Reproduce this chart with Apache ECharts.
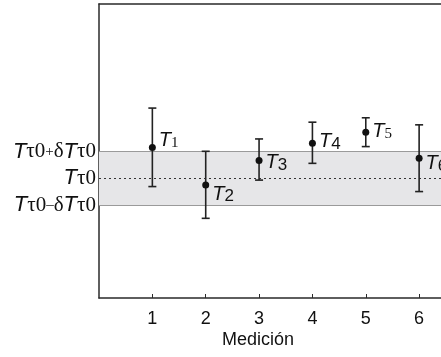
<!DOCTYPE html>
<html>
<head>
<meta charset="utf-8">
<script src="https://cdn.jsdelivr.net/npm/echarts@6/dist/echarts.min.js"></script>
<style>
html,body{margin:0;padding:0;background:#fff;}
#main{width:441px;height:357px;}
</style>
</head>
<body>
<div id="main"></div>
<script>
var medicion = [1, 2, 3, 4, 5, 6];
var valor    = [51.2, 38.4, 46.8, 52.6, 56.4, 47.5];
var inferior = [37.9, 27.1, 40.1, 45.8, 51.5, 36.2];
var superior = [64.6, 49.9, 54.1, 59.8, 61.3, 58.9];
var nombres  = ['1', '2', '3', '4', '5', '6'];

// banda de referencia T_tau0 +- dT_tau0
var tau0 = 40.7;
var dTau0 = 9.1;
var xTicks = [1, 2, 3, 4, 5, 6];
var xMax = 6.41;   // el grafico original esta cortado a la derecha

// desplazamiento de cada etiqueta respecto al punto
var labelOff = [[0,-7],[0,9],[0,2],[0,-2],[0,-1],[0,5]];

var myChart = echarts.init(document.getElementById('main'));

var puntos = [];
var barras = [];
for (var i = 0; i < medicion.length; i++) {
	puntos.push({
		value: [medicion[i], valor[i]],
		label: {offset: labelOff[i]}
	});
	barras.push([medicion[i], inferior[i], superior[i]]);
}

var ejeColor = '#2a2a2a';
var txt = '#111';

option = {
	animation: false,
	grid: {left: 99, top: 4, bottom: 59, right: 0},
	xAxis: [{
		type: 'value', min: 0, max: xMax,
		splitLine: {show: false},
		axisLine: {lineStyle: {color: ejeColor, width: 1.5}},
		axisTick: {inside: true, length: 4, customValues: xTicks, lineStyle: {color: ejeColor}},
		axisLabel: {
			customValues: xTicks, margin: 12,
			fontSize: 18, fontFamily: 'Liberation Sans', color: txt
		}
	}, {
		// linea superior del marco
		type: 'value', min: 0, max: xMax, position: 'top',
		splitLine: {show: false}, axisTick: {show: false}, axisLabel: {show: false},
		axisLine: {show: true, lineStyle: {color: ejeColor, width: 1.5}}
	}],
	yAxis: {
		type: 'value', min: 0, max: 100,
		splitLine: {show: false},
		axisLine: {show: true, lineStyle: {color: ejeColor, width: 1.5}},
		axisTick: {show: false},
		axisLabel: {
			customValues: [tau0 - dTau0, tau0, tau0 + dTau0],
			margin: 3,
			formatter: function (v) {
				if (Math.abs(v - tau0) < 0.01) return '{t|T}{g|τ0}';
				if (v > tau0) return '{t|T}{g|τ0}{p|+}{g|δ}{t|T}{g|τ0}';
				return '{t|T}{g|τ0}{p|–}{g|δ}{t|T}{g|τ0}';
			},
			rich: {
				t: {fontSize: 22, fontStyle: 'italic', fontFamily: 'Liberation Sans', color: txt},
				g: {fontSize: 21, fontFamily: 'Liberation Serif', color: txt},
				p: {fontSize: 15, fontFamily: 'Liberation Serif', color: txt}
			}
		}
	},
	graphic: [{
		type: 'text', x: 258, y: 331,
		style: {
			text: 'Medición', textAlign: 'center',
			fontSize: 18, fontFamily: 'Liberation Sans', fill: txt
		}
	}],
	series: [
		{
			type: 'line', data: [], silent: true,
			markArea: {
				silent: true,
				itemStyle: {color: '#e6e6e8'},
				data: [[{yAxis: tau0 - dTau0, xAxis: 0}, {yAxis: tau0 + dTau0, xAxis: xMax}]]
			},
			markLine: {
				silent: true, symbol: 'none', label: {show: false},
				data: [
					{yAxis: tau0, lineStyle: {color: '#333', type: [2, 3], width: 1.2}},
					{yAxis: tau0 - dTau0, lineStyle: {color: '#9a9a9a', type: 'solid', width: 1}},
					{yAxis: tau0 + dTau0, lineStyle: {color: '#9a9a9a', type: 'solid', width: 1}}
				]
			}
		},
		{
			type: 'custom', data: barras, z: 5,
			renderItem: function (params, api) {
				var x = api.value(0);
				var lo = api.coord([x, api.value(1)]);
				var hi = api.coord([x, api.value(2)]);
				var w = 4;
				var st = {stroke: '#222', lineWidth: 1.6};
				return {
					type: 'group',
					children: [
						{type: 'line', shape: {x1: lo[0], y1: lo[1], x2: hi[0], y2: hi[1]}, style: st},
						{type: 'line', shape: {x1: lo[0]-w, y1: lo[1], x2: lo[0]+w, y2: lo[1]}, style: st},
						{type: 'line', shape: {x1: hi[0]-w, y1: hi[1], x2: hi[0]+w, y2: hi[1]}, style: st}
					]
				};
			}
		},
		{
			type: 'scatter', data: puntos, z: 6,
			symbolSize: 7,
			itemStyle: {color: '#111', opacity: 1},
			label: {
				show: true, position: 'right', distance: 3, color: txt,
				formatter: function (p) {
					var n = nombres[p.dataIndex];
					if (n == '1' || n == '5') return '{t|T}{s|' + n + '}';
					return '{t|T}{u|' + n + '}';
				},
				rich: {
					t: {fontSize: 20, fontStyle: 'italic', fontFamily: 'Liberation Sans', color: txt},
					s: {fontSize: 15, fontFamily: 'Liberation Serif', color: txt, padding: [6, 0, 0, 0]},
					u: {fontSize: 17, fontFamily: 'Liberation Sans', color: txt, padding: [5, 0, 0, 0]}
				}
			}
		}
	]
};
myChart.setOption(option);
</script>
</body>
</html>
